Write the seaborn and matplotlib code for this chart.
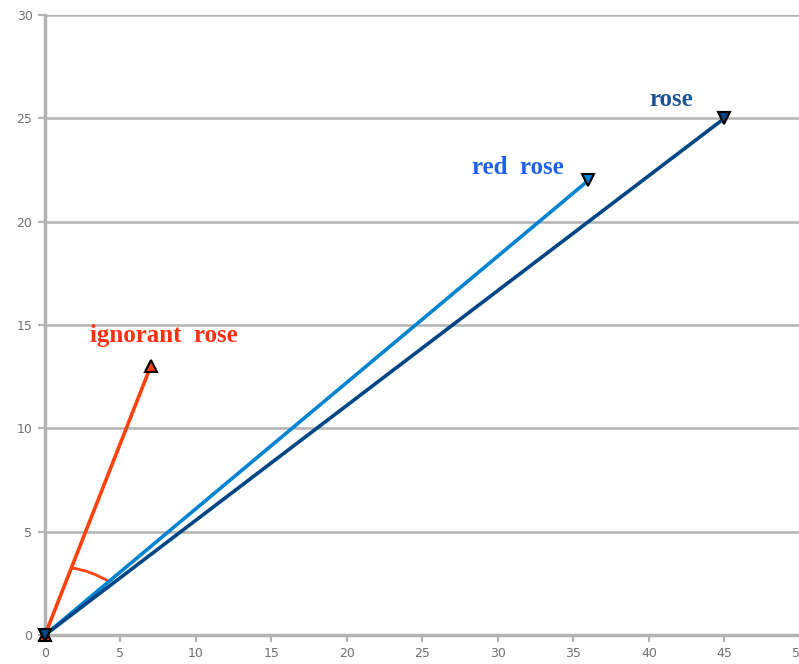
import matplotlib
matplotlib.use("Agg")
import matplotlib.pyplot as plt
import matplotlib.patches as mpatches
from matplotlib.path import Path
import pandas as pd
import seaborn as sns

# vector end points (all start at origin)
names = ["rose", "red  rose", "ignorant  rose"]
end_x = [45, 36, 7]
end_y = [25, 22, 13]
colors = ["#004586", "#0084d1", "#ff420e"]
label_colors = ["#1c5596", "#2060f0", "#ff3010"]
markers = ["v", "v", "^"]
label_x = [41.5, 31.3, 7.9]
label_y = [25.9, 22.6, 14.5]

# angle arc between "ignorant rose" and the other vectors
arc_x = [1.77, 2.96, 4.3]
arc_y = [3.24, 3.14, 2.56]

rows = []
for n, x, y in zip(names, end_x, end_y):
    rows.append({"name": n, "x": 0, "y": 0})
    rows.append({"name": n, "x": x, "y": y})
df = pd.DataFrame(rows)

sns.set_style("white")
fig = plt.figure(figsize=(7.99, 6.64), dpi=100)
ax = fig.add_axes([0.0563, 0.0437, 0.9447, 0.9337])

grid = "#b3b3b3"
for yy in range(0, 31, 5):
    ax.axhline(yy, color=grid, lw=1.8, zorder=0)

for i, n in enumerate(names):
    sns.lineplot(data=df[df.name == n], x="x", y="y", color=colors[i], lw=2.6,
                 marker=markers[i], markersize=9, markeredgecolor="black",
                 markeredgewidth=1.5, ax=ax, zorder=3 - i * 0.1, sort=False,
                 clip_on=False)
    ax.text(label_x[i], label_y[i], n, color=label_colors[i], ha="center", va="center",
            fontsize=18, fontweight="bold", family="Liberation Serif")

path = Path([(arc_x[0], arc_y[0]), (arc_x[1], arc_y[1]), (arc_x[2], arc_y[2])],
            [Path.MOVETO, Path.CURVE3, Path.CURVE3])
ax.add_patch(mpatches.PathPatch(path, fc="none", ec="#ff420e", lw=2, zorder=2))

ax.set_xlim(0, 50)
ax.set_ylim(0, 30)
ax.set_xticks(range(0, 51, 5))
ax.set_yticks(range(0, 31, 5))
ax.set_xlabel("")
ax.set_ylabel("")
for s in ["top", "right"]:
    ax.spines[s].set_visible(False)
for s in ["left", "bottom"]:
    ax.spines[s].set_color(grid)
    ax.spines[s].set_linewidth(2.5)
    ax.spines[s].set_zorder(0.5)
ax.tick_params(axis="both", colors=grid, length=5, width=1.5, labelsize=9,
               labelcolor="#707070", pad=4, direction="out")
ax.tick_params(axis="x", bottom=True)
ax.tick_params(axis="y", left=True)

fig.savefig("out.png", dpi=100)
